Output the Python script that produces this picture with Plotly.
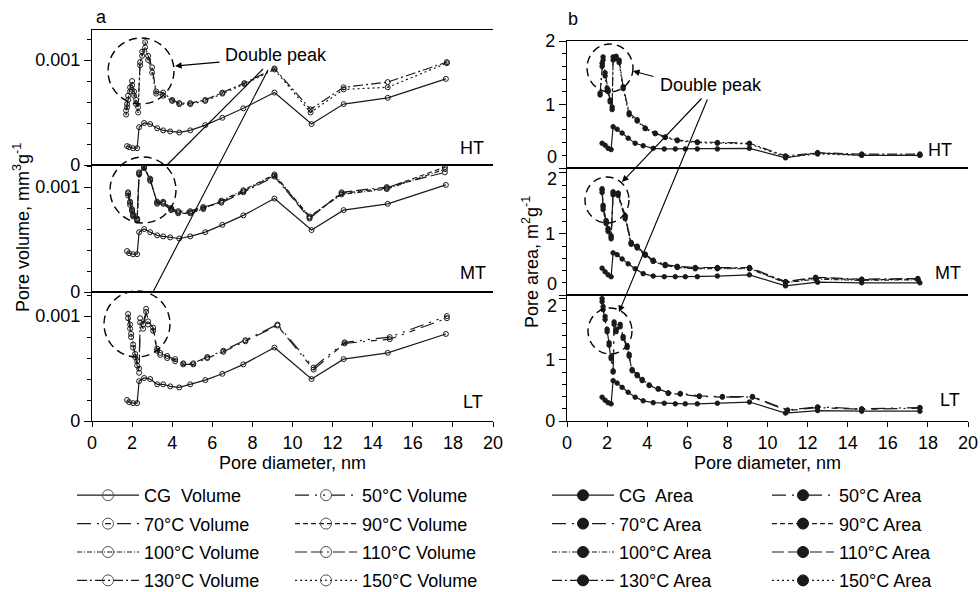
import plotly.graph_objects as go

W, H = 980, 592
INK = "#1a1a1a"
FONT = "Liberation Sans, Arial, sans-serif"

# ---------------- Pore volume data (mm3 g-1) ----------------
d_vcg = [1.75, 1.85, 2.05, 2.25, 2.35, 2.60, 2.90, 3.25, 3.55, 3.90, 4.35, 4.90, 5.65, 6.50, 7.55, 9.10, 10.95, 12.55, 14.75, 17.65]
vol_cg_ht = [0.00018, 0.00017, 0.00016, 0.00016, 0.00036, 0.00040, 0.00039, 0.00035, 0.00033, 0.00032, 0.00031, 0.00033, 0.00038, 0.00045, 0.00054, 0.00069, 0.00039, 0.00058, 0.00064, 0.00082]
vol_cg_mt = [0.00039, 0.00037, 0.00036, 0.00036, 0.00057, 0.00060, 0.00057, 0.00054, 0.00053, 0.00052, 0.00051, 0.00053, 0.00057, 0.00064, 0.00073, 0.00089, 0.00059, 0.00078, 0.00084, 0.00102]
vol_cg_lt = [0.00020, 0.00018, 0.00017, 0.00017, 0.00038, 0.00041, 0.00040, 0.00035, 0.00035, 0.00033, 0.00032, 0.00035, 0.00039, 0.00045, 0.00054, 0.00070, 0.00040, 0.00059, 0.00065, 0.00083]

d_vht = [1.70, 1.75, 1.80, 1.90, 2.00, 2.10, 2.20, 2.30, 2.40, 2.50, 2.65, 2.80, 3.00, 3.20, 3.55, 4.00, 4.35, 4.90, 5.65, 6.50, 7.60, 9.10, 10.90, 12.55, 14.75, 17.70]
vol_130 = [0.00052, 0.00058, 0.00066, 0.00074, 0.00080, 0.00070, 0.00062, 0.00055, 0.00098, 0.00104, 0.00112, 0.00104, 0.00093, 0.00070, 0.00069, 0.00062, 0.00059, 0.00059, 0.00062, 0.00069, 0.00078, 0.00092, 0.00053, 0.00074, 0.00079, 0.00098]
vol_150 = [0.00048, 0.00055, 0.00062, 0.00070, 0.00076, 0.00066, 0.00058, 0.00050, 0.00095, 0.00108, 0.00117, 0.00100, 0.00088, 0.00068, 0.00066, 0.00061, 0.00058, 0.00058, 0.00061, 0.00068, 0.00077, 0.00091, 0.00050, 0.00072, 0.00074, 0.00097]

d_vmt = [1.80, 1.90, 2.00, 2.05, 2.25, 2.35, 2.60, 2.90, 3.25, 3.55, 3.95, 4.30, 4.90, 5.55, 6.45, 7.55, 9.10, 10.85, 12.45, 14.70, 17.60]
vol_90 = [0.00094, 0.00085, 0.00078, 0.00073, 0.00069, 0.00113, 0.00119, 0.00107, 0.00085, 0.00085, 0.00079, 0.00076, 0.00076, 0.00080, 0.00086, 0.00096, 0.00111, 0.00071, 0.00094, 0.00099, 0.00119]
vol_100 = [0.00092, 0.00083, 0.00077, 0.00072, 0.00068, 0.00112, 0.00120, 0.00106, 0.00086, 0.00084, 0.00078, 0.00075, 0.00075, 0.00079, 0.00087, 0.00097, 0.00112, 0.00072, 0.00093, 0.00098, 0.00117]
vol_110 = [0.00095, 0.00086, 0.00079, 0.00074, 0.00070, 0.00114, 0.00118, 0.00108, 0.00084, 0.00086, 0.00080, 0.00077, 0.00077, 0.00081, 0.00085, 0.00095, 0.00110, 0.00070, 0.00095, 0.00100, 0.00114]

d_vlt = [1.80, 1.90, 1.95, 2.05, 2.15, 2.25, 2.35, 2.40, 2.55, 2.70, 2.80, 3.05, 3.25, 3.40, 3.75, 4.15, 4.55, 5.05, 5.75, 6.55, 7.65, 9.25, 11.05, 12.60, 14.85, 17.70]
vol_50 = [0.00102, 0.00092, 0.00083, 0.00073, 0.00064, 0.00057, 0.00050, 0.00098, 0.00092, 0.00107, 0.00095, 0.00089, 0.00069, 0.00065, 0.00062, 0.00059, 0.00055, 0.00055, 0.00061, 0.00067, 0.00077, 0.00092, 0.00051, 0.00075, 0.00080, 0.00100]
vol_70 = [0.00098, 0.00088, 0.00080, 0.00070, 0.00061, 0.00053, 0.00046, 0.00094, 0.00088, 0.00104, 0.00092, 0.00086, 0.00067, 0.00063, 0.00060, 0.00057, 0.00054, 0.00054, 0.00060, 0.00066, 0.00076, 0.00091, 0.00049, 0.00074, 0.00078, 0.00098]

# ---------------- Pore area data (m2 g-1) ----------------
d_acg = [1.75, 1.90, 2.05, 2.20, 2.30, 2.50, 2.75, 3.05, 3.40, 3.80, 4.30, 4.85, 5.40, 5.90, 6.50, 7.50, 9.10, 10.90, 12.50, 14.70, 17.60]
area_cg_ht = [0.39, 0.36, 0.31, 0.29, 0.65, 0.61, 0.55, 0.47, 0.39, 0.35, 0.31, 0.30, 0.30, 0.30, 0.30, 0.30, 0.31, 0.16, 0.24, 0.20, 0.20]
area_cg_mt = [0.44, 0.38, 0.33, 0.30, 0.69, 0.66, 0.59, 0.51, 0.43, 0.35, 0.31, 0.30, 0.30, 0.30, 0.30, 0.31, 0.33, 0.15, 0.21, 0.20, 0.20]
area_cg_lt = [0.39, 0.34, 0.30, 0.28, 0.66, 0.62, 0.55, 0.47, 0.39, 0.33, 0.30, 0.29, 0.28, 0.28, 0.28, 0.29, 0.31, 0.13, 0.17, 0.16, 0.16]

d_aht = [1.65, 1.75, 1.80, 1.90, 2.00, 2.05, 2.15, 2.25, 2.30, 2.45, 2.60, 2.80, 3.10, 3.50, 3.90, 4.40, 4.90, 5.50, 6.50, 7.50, 9.10, 10.90, 12.50, 14.70, 17.60]
area_130 = [1.18, 1.65, 1.75, 1.50, 1.26, 1.23, 1.07, 0.96, 1.75, 1.76, 1.70, 1.28, 0.87, 0.76, 0.63, 0.55, 0.49, 0.44, 0.41, 0.40, 0.39, 0.19, 0.24, 0.22, 0.22]
area_150 = [1.15, 1.60, 1.70, 1.45, 1.22, 1.20, 1.04, 0.92, 1.70, 1.72, 1.66, 1.25, 0.84, 0.74, 0.62, 0.54, 0.48, 0.43, 0.40, 0.39, 0.38, 0.17, 0.22, 0.20, 0.20]

d_amt = [1.75, 1.80, 1.95, 2.05, 2.20, 2.30, 2.55, 2.90, 3.20, 3.50, 3.90, 4.30, 4.90, 5.50, 6.40, 7.50, 9.10, 10.90, 12.40, 14.70, 17.50]
area_90 = [1.72, 1.44, 1.20, 1.07, 0.95, 1.67, 1.66, 1.28, 0.85, 0.79, 0.66, 0.56, 0.49, 0.46, 0.44, 0.44, 0.44, 0.21, 0.28, 0.25, 0.26]
area_100 = [1.68, 1.40, 1.17, 1.04, 0.92, 1.64, 1.63, 1.25, 0.83, 0.77, 0.65, 0.55, 0.48, 0.45, 0.43, 0.43, 0.43, 0.20, 0.26, 0.24, 0.25]
area_110 = [1.74, 1.47, 1.22, 1.09, 0.97, 1.69, 1.67, 1.30, 0.86, 0.80, 0.67, 0.57, 0.50, 0.47, 0.45, 0.45, 0.45, 0.22, 0.29, 0.26, 0.27]

d_alt = [1.75, 1.80, 1.90, 2.00, 2.10, 2.20, 2.30, 2.35, 2.45, 2.65, 2.80, 3.00, 3.10, 3.25, 3.50, 3.75, 4.10, 4.55, 5.05, 5.65, 6.60, 7.75, 9.25, 11.00, 12.50, 14.70, 17.60]
area_50 = [2.00, 1.87, 1.71, 1.50, 1.28, 1.05, 0.82, 1.62, 1.50, 1.58, 1.38, 1.23, 1.09, 0.84, 0.76, 0.68, 0.59, 0.53, 0.46, 0.45, 0.41, 0.40, 0.40, 0.18, 0.23, 0.20, 0.22]
area_70 = [1.95, 1.82, 1.66, 1.46, 1.24, 1.02, 0.80, 1.58, 1.46, 1.54, 1.35, 1.20, 1.06, 0.82, 0.74, 0.66, 0.58, 0.52, 0.45, 0.44, 0.40, 0.39, 0.39, 0.17, 0.22, 0.19, 0.21]

x_ticks = [0, 2, 4, 6, 8, 10, 12, 14, 16, 18, 20]
panel_labels = ["HT", "MT", "LT"]

# ---------------- styles ----------------
DASH = {
    "CG": "solid",
    "50": "14px,6px,2px,6px,2px,6px",
    "70": "14px,6px,2px,6px,6px,6px",
    "90": "5px,3px",
    "100": "5px,2px,1px,2px",
    "110": "12px,4px,12px,4px,2px,4px",
    "130": "10px,3px,2px,3px",
    "150": "2px,3px",
}
VOL_SYM = {k: "circle-open" for k in DASH}
VOL_SYM["150"] = "circle-open-dot"
# legend columns: col1: CG,70,100,130 ; col2: 50,90,110,150
COL1 = ["CG", "70", "100", "130"]
COL2 = ["50", "90", "110", "150"]

def nm(key, kind):
    return ("CG  " if key == "CG" else key + "°C ") + kind

fig = go.Figure()

def add(x, y, ax_i, key, kind):
    vol = kind == "Volume"
    fig.add_trace(go.Scatter(
        x=x, y=y, xaxis="x" if ax_i == 1 else f"x{ax_i}", yaxis="y" if ax_i == 1 else f"y{ax_i}",
        mode="lines+markers", name=nm(key, kind),
        line=dict(color=INK, width=1.2, dash=DASH[key]),
        marker=dict(symbol=VOL_SYM[key] if vol else "circle", size=5 if vol else 4.5,
                    color=INK, line=dict(color=INK, width=1)),
        showlegend=False, cliponaxis=True))

# Volume panels
add(d_vcg, vol_cg_ht, 1, "CG", "Volume")
add(d_vht, vol_130, 1, "130", "Volume")
add(d_vht, vol_150, 1, "150", "Volume")
add(d_vcg, vol_cg_mt, 2, "CG", "Volume")
add(d_vmt, vol_90, 2, "90", "Volume")
add(d_vmt, vol_100, 2, "100", "Volume")
add(d_vmt, vol_110, 2, "110", "Volume")
add(d_vcg, vol_cg_lt, 3, "CG", "Volume")
add(d_vlt, vol_50, 3, "50", "Volume")
add(d_vlt, vol_70, 3, "70", "Volume")
# Area panels
add(d_acg, area_cg_ht, 4, "CG", "Area")
add(d_aht, area_130, 4, "130", "Area")
add(d_aht, area_150, 4, "150", "Area")
add(d_acg, area_cg_mt, 5, "CG", "Area")
add(d_amt, area_90, 5, "90", "Area")
add(d_amt, area_100, 5, "100", "Area")
add(d_amt, area_110, 5, "110", "Area")
add(d_acg, area_cg_lt, 6, "CG", "Area")
add(d_alt, area_50, 6, "50", "Area")
add(d_alt, area_70, 6, "70", "Area")

# legend entries (legend-only items, bigger symbols like the reference key)
for kind, legs in (("Volume", ("legend", "legend2")), ("Area", ("legend3", "legend4"))):
    for col, leg in zip((COL1, COL2), legs):
        for rank, key in enumerate(col):
            vol = kind == "Volume"
            fig.add_trace(go.Scatter(
                x=[None], y=[None], mode="lines+markers", name=nm(key, kind),
                line=dict(color=INK, width=1.2, dash=DASH[key]),
                marker=dict(symbol=VOL_SYM[key] if vol else "circle", size=11,
                            color=("#555" if vol else INK), line=dict(color=("#555" if vol else INK), width=1)),
                legend=leg, legendgroup=kind + key, legendrank=rank + 1, showlegend=True))

# ---------------- layout ----------------
def fy(py):
    return 1 - py / H

def fx(px):
    return px / W

XA = [fx(92), fx(493)]
XB = [fx(567), fx(968)]
panels = {
    1: dict(xd=XA, yd=[fy(165), fy(30)], rng=[0, 0.001286], vol=True),
    2: dict(xd=XA, yd=[fy(292), fy(165)], rng=[0, 0.00121], vol=True),
    3: dict(xd=XA, yd=[fy(421), fy(292)], rng=[0, 0.00123], vol=True),
    4: dict(xd=XB, yd=[fy(168), fy(41)], rng=[0, 2.0], vol=False),
    5: dict(xd=XB, yd=[fy(295), fy(168)], rng=[0, 2.08], vol=False),
    6: dict(xd=XB, yd=[fy(421), fy(295)], rng=[0, 2.06], vol=False),
}
tickfont = dict(family=FONT, size=18, color="black")
lay = {}
for i, p in panels.items():
    sx = "xaxis" if i == 1 else f"xaxis{i}"
    sy = "yaxis" if i == 1 else f"yaxis{i}"
    bottom = i in (3, 6)
    lay[sx] = dict(domain=p["xd"], anchor="y" if i == 1 else f"y{i}", range=[0, 20],
                   showline=True, mirror=True, linecolor="black", linewidth=1.4,
                   showgrid=False, zeroline=False, automargin=False,
                   tickmode="array", tickvals=x_ticks,
                   ticks="outside" if bottom else "", ticklen=5, tickcolor="black",
                   showticklabels=bottom, tickfont=tickfont)
    if p["vol"]:
        tv, tt, mdt = [0, 0.001], ["0", "0.001"], 0.0002
    else:
        tv, mdt = [0, 1, 2], 0.2
        # labels at the panel joins are drawn separately so "0" and "2" do not collide
        tt = ["0" if i == 6 else "", "1", "2" if i == 4 else ""]
    lay[sy] = dict(domain=p["yd"], anchor="x" if i == 1 else f"x{i}", range=p["rng"],
                   showline=True, mirror=False, linecolor="black", linewidth=1.4,
                   showgrid=False, zeroline=False, automargin=False,
                   tickmode="array", tickvals=tv, ticktext=tt,
                   ticks="outside", ticklen=7, tickcolor="black", tickfont=tickfont,
                   minor=dict(dtick=mdt, ticks="outside", ticklen=4, tickcolor="black", showgrid=False))

for k in ("xaxis3", "xaxis6"):
    lay[k]["title"] = dict(text="Pore diameter, nm", font=dict(family=FONT, size=18, color="black"), standoff=3)

leg_common = dict(font=dict(family=FONT, size=18, color="black"), bgcolor="rgba(0,0,0,0)",
                  orientation="v", yanchor="top", xanchor="left", y=fy(477),
                  itemwidth=62, traceorder="grouped", tracegroupgap=2)
lay["legend"] = dict(leg_common, x=fx(72))
lay["legend2"] = dict(leg_common, x=fx(290))
lay["legend3"] = dict(leg_common, x=fx(547))
lay["legend4"] = dict(leg_common, x=fx(767))

fig.update_layout(template="none", width=W, height=H,
                  margin=dict(l=0, r=0, t=0, b=0, pad=0, autoexpand=False),
                  paper_bgcolor="white", plot_bgcolor="white",
                  font=dict(family=FONT, size=18, color="black"), **lay)

# ---------------- annotations & shapes ----------------
ann = []
def txt(t, px, py, size=18, **kw):
    opts = dict(xanchor="center", yanchor="middle")
    opts.update(kw)
    ann.append(dict(text=t, x=fx(px), y=fy(py), xref="paper", yref="paper", showarrow=False,
                    font=dict(family=FONT, size=size, color="black"), **opts))

txt("a", 101, 17)
txt("b", 573, 19)
txt("Double peak", 276, 55)
txt("Double peak", 711, 85)
for lab, px, py in zip(panel_labels, [472, 473, 473], [148, 273, 402]):
    txt(lab, px, py)
for lab, px, py in zip(panel_labels, [940, 948, 950], [150, 273, 400]):
    txt(lab, px, py)
txt("Pore volume, mm<sup>3</sup>g<sup>-1</sup>", 22, 228, textangle=-90)
txt("Pore area, m<sup>2</sup>g<sup>-1</sup>", 530, 262, textangle=-90)
# tick labels at the joins of panel b: "0" sits above the separator, "2" below it
for lab, py in (("0", 157), ("2", 179), ("0", 284), ("2", 306)):
    txt(lab, 559, py, xanchor="right")

def arrow(tip, tail):
    ann.append(dict(text="", x=fx(tip[0]), y=fy(tip[1]), xref="paper", yref="paper",
                    ax=tail[0] - tip[0], ay=tail[1] - tip[1], showarrow=True,
                    arrowhead=2, arrowsize=1.2, arrowwidth=1.1, arrowcolor="black", standoff=0))

arrow((175, 66), (221, 62))
arrow((633, 71), (655, 77))
arrow((622, 182), (703, 97))
arrow((619, 312), (708, 98))

shapes = []
def circle(cx, cy, rx, ry):
    shapes.append(dict(type="circle", xref="paper", yref="paper",
                       x0=fx(cx - rx), x1=fx(cx + rx), y0=fy(cy + ry), y1=fy(cy - ry),
                       line=dict(color="black", width=1.4, dash="8px,5px")))

def seg(p0, p1):
    shapes.append(dict(type="line", xref="paper", yref="paper",
                       x0=fx(p0[0]), y0=fy(p0[1]), x1=fx(p1[0]), y1=fy(p1[1]),
                       line=dict(color="black", width=1.1)))

circle(141, 71, 33, 33)
circle(143, 190, 33, 33)
circle(137, 324, 33, 33)
circle(610, 68, 23, 24)
circle(607, 200, 22, 23)
circle(610, 331, 22, 23)
seg((263, 69), (167, 165))
seg((268, 70), (153, 292))

fig.update_layout(annotations=ann, shapes=shapes)
fig.write_html("out.html")
